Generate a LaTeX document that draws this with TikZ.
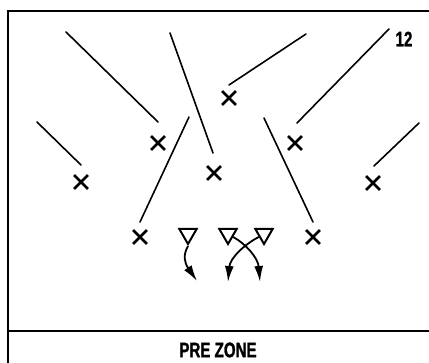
\documentclass[tikz,border=0pt]{standalone}
\usepackage{fontspec}
\newfontfamily\condfont[FakeStretch=0.72, FakeBold=1.2]{Liberation Sans Bold}
\usetikzlibrary{shapes.geometric,shapes.misc,arrows.meta}
\begin{document}
\begin{tikzpicture}[x=1pt,y=-1pt,
  route/.style={line width=1.6pt, line cap=round},
  xmark/.style={cross out, draw, line width=2.8pt, minimum size=11pt, inner sep=0pt},
  tri/.style={regular polygon, regular polygon sides=3, shape border rotate=180, draw, line width=2pt, minimum size=20pt, inner sep=0pt},
  mv/.style={line width=1.8pt, -{Latex[length=16pt,width=9pt]}},
  frame/.style={line width=1.8pt},
  lbl/.style={font=\condfont\fontsize{21}{21}\selectfont, inner sep=0pt}]
\useasboundingbox (0,0) rectangle (429,363);
\fill[white] (0,0) rectangle (429,363);
% frame
\coordinate (tl) at (8,11);
\coordinate (tr) at (432,11);
\coordinate (bl) at (8,366);
\coordinate (dl) at (8,331);
\coordinate (dr) at (432,331);
\draw[frame] (bl) -- (tl) -- (tr);
\draw[frame] (dl) -- (dr);
% routes
\coordinate (a1) at (66,32); \coordinate (a2) at (158,122);
\coordinate (b1) at (170,33); \coordinate (b2) at (213,153);
\coordinate (c1) at (306,34); \coordinate (c2) at (229,85);
\coordinate (d1) at (389,29); \coordinate (d2) at (297,123);
\coordinate (e1) at (37,122); \coordinate (e2) at (81,165);
\coordinate (f1) at (189,117); \coordinate (f2) at (140,222);
\coordinate (g1) at (264,118); \coordinate (g2) at (313,222);
\coordinate (h1) at (419,123); \coordinate (h2) at (374,166);
\foreach \p in {a,b,c,d,e,f,g,h} \draw[route] (\p1) -- (\p2);
% defenders
\node[xmark] (x1) at (229,98) {};
\node[xmark] (x2) at (158,143) {};
\node[xmark] (x3) at (295,143) {};
\node[xmark] (x4) at (81,182) {};
\node[xmark] (x5) at (214,173) {};
\node[xmark] (x6) at (373,183) {};
\node[xmark] (x7) at (140,237) {};
\node[xmark] (x8) at (313,237) {};
% offense
\node[tri] (t1) at (188,234) {};
\node[tri] (t2) at (228,234) {};
\node[tri] (t3) at (264,234) {};
\coordinate (m1) at (197,281);
\coordinate (m2) at (260,282);
\coordinate (m3) at (228,282);
\draw[mv] (t1.south) .. controls (183,255) and (184,262) .. (m1);
\draw[mv] (t2.-30) .. controls (246,244) and (258,258) .. (m2);
\draw[mv] (t3.210) .. controls (245,244) and (230,258) .. (m3);
% labels
\node[lbl] (num) at (404,39) {12};
\node[lbl] (title) at (218,350) {PRE ZONE};
\end{tikzpicture}
\end{document}
